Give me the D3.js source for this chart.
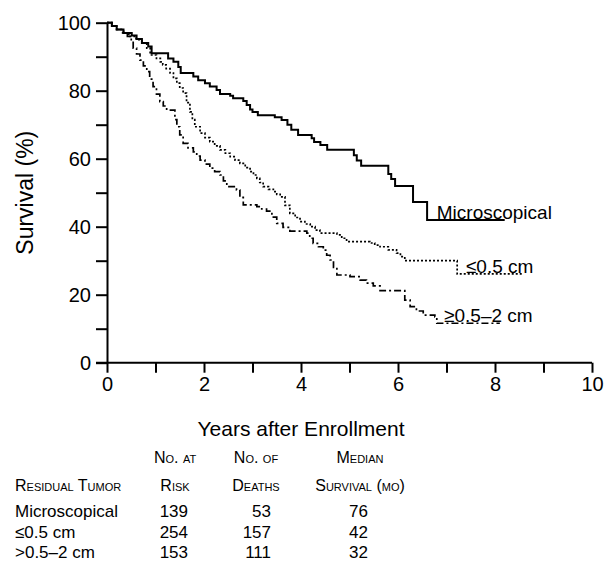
<!DOCTYPE html>
<meta charset="utf-8">
<style>
body { margin: 0; background: #fff; }
text { font-family: "Liberation Sans", Arial, sans-serif; fill: #000; }
.axis path, .axis line { fill: none; stroke: #000; stroke-width: 2px; }
.axis text { font-size: 20px; }
.curve { fill: none; stroke: #000; }
.sc { font-variant: small-caps; }
</style>
<body>
<script src="https://d3js.org/d3.v7.min.js"></script>
<script>

// survival curves (years, % surviving), step points
var microT = [0,0.1,0.2,0.34,0.51,0.61,0.72,0.85,0.92,1.26,1.37,1.47,1.52,1.78,1.88,2.02,2.12,2.26,2.33,2.54,2.6,2.81,2.88,2.95,3.0,3.11,3.46,3.6,3.72,3.8,3.94,4.22,4.27,4.4,4.54,5.09,5.15,5.24,5.8,5.86,5.94,6.31,6.6,8.2];
var microS = [100,99,98,97,96.2,95.2,94,93,91,89.5,88.5,87,85.2,84.2,83.1,82.2,81.2,80.2,79,78.5,77.8,77,75.8,74.5,73.7,72.8,72.2,71.4,70,68.5,67,66,64.9,64,62.6,61,59.5,57.9,55.5,54,52,47.3,42,42];

var le05T = [0,0.1,0.2,0.34,0.45,0.6,0.72,0.82,0.89,1.02,1.1,1.15,1.22,1.3,1.37,1.44,1.5,1.57,1.64,1.71,1.76,1.81,1.92,2.02,2.12,2.22,2.33,2.44,2.54,2.64,2.74,2.85,2.95,3.02,3.09,3.15,3.22,3.33,3.43,3.5,3.57,3.67,3.77,3.88,3.98,4.08,4.19,4.29,4.39,4.74,4.84,4.94,5.42,5.52,5.63,5.8,5.97,6.05,6.14,7.22,8.58];
var le05S = [100,99,98,97,96,95,94,92.5,90.5,89.5,88.5,87.6,86.5,85.2,83.6,82.2,80.8,79.3,76.5,73.8,71.5,69.4,67.5,66.2,65,63.8,62.6,61.6,60.6,59.6,58.6,57.4,56.2,55.2,54.2,53,51.8,51,50.3,49.5,48.8,46.3,43.9,42.7,41.5,40.8,40,39,38.1,37.6,36.6,35.6,35.2,34.6,34.1,33.2,32.2,31.2,30,26.1,26.1];

var gt05T = [0,0.1,0.2,0.3,0.42,0.5,0.54,0.61,0.68,0.75,0.82,0.88,0.95,1.02,1.09,1.16,1.23,1.4,1.44,1.5,1.57,1.67,1.78,1.85,1.92,2.02,2.12,2.22,2.33,2.4,2.47,2.67,2.74,2.81,3.09,3.19,3.29,3.4,3.5,3.63,3.77,4.12,4.18,4.25,4.36,4.46,4.53,4.6,4.67,4.74,5.01,5.22,5.35,5.49,5.63,6.14,6.25,6.38,6.52,6.76,6.8,8.1];
var gt05S = [100,99,98,97,96,94.5,92.5,90.8,89,87.3,85.6,83.4,81.2,79,76.8,75.5,74.3,71.5,69.4,67,64.5,63.2,62,60.8,59.6,58.4,57.2,56.2,55.2,53.5,51.8,50.8,48.6,46.4,45.9,45.2,44.6,42.8,41,39.8,38.7,38.1,36.6,35.1,34.1,33.1,31.6,30.2,28,25.8,25.3,24.3,23.4,22.6,21.2,18.4,16.5,15.2,14,13.5,11.6,11.6];

var curveNames = ["Microscopical", "\u22640.5 cm", "\u22650.5\u20132 cm"];

// table below the chart
var tableGroups = ["Microscopical", "\u22640.5 cm", ">0.5\u20132 cm"];
var atRisk = [139, 254, 153];
var deaths = [53, 157, 111];
var medianMo = [76, 42, 32];

var xTicks = d3.range(0, 11, 1);
var yTicks = d3.range(0, 101, 10);

var margin = {top: 22.7, left: 107},
    width = 485,
    height = 340;

var svg = d3.select("body").append("svg")
    .attr("width", 608)
    .attr("height", 562);

var g = svg.append("g")
    .attr("transform", "translate(" + margin.left + "," + margin.top + ")");

var x = d3.scaleLinear().domain([0, 10]).range([0, width]);
var y = d3.scaleLinear().domain([0, 100]).range([height, 0]);

// axes
var xAxis = g.append("g")
    .attr("class", "axis")
    .attr("transform", "translate(0," + height + ")")
    .call(d3.axisBottom(x).tickValues(xTicks).tickSize(10).tickSizeOuter(0).tickPadding(4)
      .tickFormat(function(d) { return d % 2 === 0 ? d : ""; }));

var yAxis = g.append("g")
    .attr("class", "axis")
    .call(d3.axisLeft(y).tickValues(yTicks).tickSize(11).tickSizeOuter(0).tickPadding(5)
      .tickFormat(function(d) { return d % 20 === 0 ? d : ""; }));

// extend x axis line to meet the y tick at 0
xAxis.select(".domain").attr("d", "M-11,0H" + width);

function toPoints(ts, ss) {
  return ts.map(function(t, i) { return [t, ss[i]]; });
}

var line = d3.line()
    .x(function(d) { return x(d[0]); })
    .y(function(d) { return y(d[1]); })
    .curve(d3.curveStepAfter);

g.append("path").datum(toPoints(gt05T, gt05S))
    .attr("class", "curve")
    .attr("stroke-width", 1.7)
    .attr("stroke-dasharray", "7,3,2,3")
    .attr("d", line);

g.append("path").datum(toPoints(le05T, le05S))
    .attr("class", "curve")
    .attr("stroke-width", 1.7)
    .attr("stroke-dasharray", "2,2")
    .attr("d", line);

g.append("path").datum(toPoints(microT, microS))
    .attr("class", "curve")
    .attr("stroke-width", 2)
    .attr("d", line);

// curve labels
var labelPos = [[6.8, 42], [7.4, 26.1], [6.95, 11.6]];
var labelDy = [-1, -1, -1];
curveNames.forEach(function(n, i) {
  g.append("text")
    .attr("x", x(labelPos[i][0]))
    .attr("y", y(labelPos[i][1]) + labelDy[i])
    .style("font-size", "19px")
    .text(n);
});

// axis titles
svg.append("text")
    .attr("transform", "translate(33," + (margin.top + height * 0.5) + ") rotate(-90)")
    .attr("text-anchor", "middle")
    .style("font-size", "23px")
    .text("Survival (%)");

svg.append("text")
    .attr("x", 301)
    .attr("y", 436)
    .attr("text-anchor", "middle")
    .style("font-size", "21px")
    .text("Years after Enrollment");

// table
var colX = [175, 256, 360];
var numRight = [188, 271, 368];

svg.append("text").attr("class", "sc").attr("x", 15).attr("y", 490.7)
    .style("font-size", "16px").text("Residual Tumor");

var headTop = ["No. at", "No. of", "Median"];
var headBot = ["Risk", "Deaths", "Survival (mo)"];
headTop.forEach(function(h, i) {
  svg.append("text").attr("class", "sc").attr("x", colX[i]).attr("y", 463.3)
    .attr("text-anchor", "middle").style("font-size", "16px").text(h);
  svg.append("text").attr("class", "sc").attr("x", colX[i]).attr("y", 490.7)
    .attr("text-anchor", "middle").style("font-size", "16px").text(headBot[i]);
});

var rowY = [517.3, 537.8, 558.3];
tableGroups.forEach(function(name, i) {
  svg.append("text").attr("x", 15).attr("y", rowY[i]).style("font-size", "17px").text(name);
  [atRisk[i], deaths[i], medianMo[i]].forEach(function(v, j) {
    svg.append("text").attr("x", numRight[j]).attr("y", rowY[i])
      .attr("text-anchor", "end").style("font-size", "17px").text(v);
  });
});

</script>
</body>
